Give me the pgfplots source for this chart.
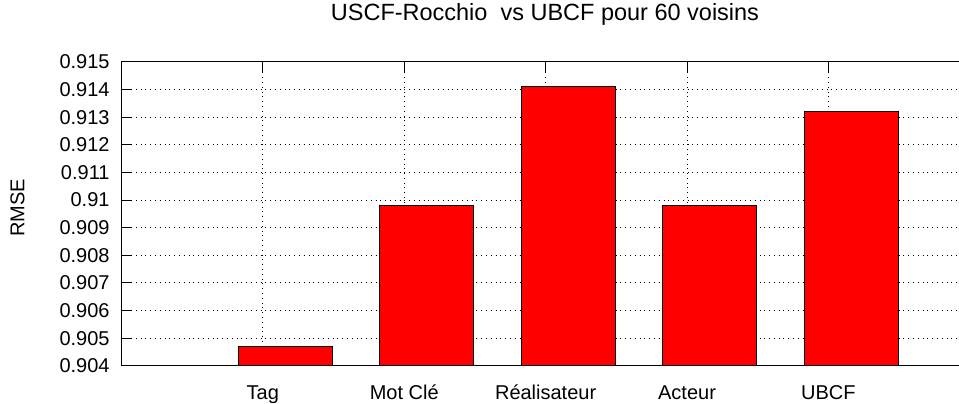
\documentclass[border=0pt]{standalone}
\usepackage{pgfplots}
\pgfplotsset{compat=1.18}
\usepackage{fontspec}
\setmainfont{Liberation Sans}
\begin{document}
\begin{tikzpicture}
\begin{axis}[
  width=418.75pt, height=152pt, scale only axis,
  xmin=0, xmax=5.92, ymin=0.904, ymax=0.915,
  ybar, bar width=0.665,
  axis x line*=box, axis y line*=left,
  y axis line style={-}, x axis line style={-},
  axis line style={line width=0.5pt},
  xtick={1,2,3,4,5},
  xticklabels={Tag,Mot Clé,Réalisateur,Acteur,UBCF},
  ytick={0.904,0.905,0.906,0.907,0.908,0.909,0.91,0.911,0.912,0.913,0.914,0.915},
  scaled y ticks=false,
  /pgf/number format/.cd, fixed, precision=3, assume math mode=true, /pgfplots/.cd,
  xtick pos=upper, xticklabel pos=lower, ytick pos=left,
  tick align=inside, major tick length=5pt, tick style={black, line width=0.5pt},
  xmajorgrids, ymajorgrids,
  grid style={dotted, black, line width=0.5pt},
  tick label style={font=\fontsize{10}{12}\selectfont},
  yticklabel style={anchor=east, inner sep=0pt, xshift=-5.75pt},
  xticklabel style={anchor=base, inner sep=0pt, yshift=-17pt},
  title={USCF-Rocchio\ \ vs UBCF pour 60 voisins},
  title style={at={(axis description cs:0.506,1)}, anchor=base, inner sep=0pt, yshift=14.5pt, font=\fontsize{11.75}{14}\selectfont},
  ylabel={RMSE},
  ylabel style={at={(axis description cs:-0.1242,0.52)}, anchor=center, inner sep=0pt, font=\fontsize{10}{12}\selectfont},
  clip=true,
]
\addplot[fill=red, draw=black, line width=0.5pt] coordinates {(1.16,0.9047) (2.16,0.9098) (3.16,0.9141) (4.16,0.9098) (5.16,0.9132)};
\end{axis}
\path (-60.75pt,-18.5pt) rectangle (418.75pt,183pt);
\end{tikzpicture}
\end{document}
